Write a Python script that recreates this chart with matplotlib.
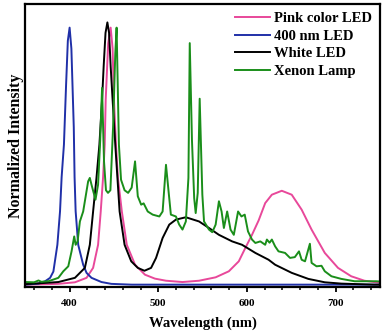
import matplotlib
matplotlib.use("Agg")
import matplotlib.pyplot as plt
from matplotlib.ticker import MultipleLocator

plt.rcParams['font.family'] = ['Liberation Serif', 'DejaVu Serif']
plt.rcParams['font.weight'] = 'bold'

# spectra (wavelength nm, normalized intensity)
pink_wl = [350, 387, 406, 419.1, 426.5, 432.1, 435.1, 437.7, 439.6, 440.7, 443.5, 446.3, 448.5, 450, 452.3,
           454.5, 458.9, 464.5, 473.8, 485, 496.2, 508.7, 527.3, 546, 564.7, 579.6, 590.8, 598.2, 605.7,
           613.2, 620.6, 628.1, 639.3, 650.5, 661.7, 672.9, 687.8, 702.7, 717.6, 732.5, 750]
pink_val = [0.0, 0.003, 0.009, 0.026, 0.064, 0.152, 0.279, 0.407, 0.534, 0.705, 0.92, 0.98, 0.9, 0.705, 0.534,
            0.407, 0.279, 0.152, 0.076, 0.038, 0.023, 0.015, 0.010, 0.015, 0.028, 0.051, 0.089, 0.14, 0.19,
            0.245, 0.311, 0.343, 0.358, 0.343, 0.286, 0.21, 0.121, 0.064, 0.032, 0.015, 0.007]

blue_wl = [350, 365, 372.4, 378, 381.7, 386.2, 389.2, 391, 393.6, 396, 398, 400, 402, 404.7, 405.6, 406.8,
           409.7, 415.3, 419.1, 424.7, 435.9, 447.1, 470, 750]
blue_val = [0.0, 0.004, 0.013, 0.026, 0.05, 0.152, 0.28, 0.41, 0.534, 0.76, 0.93, 0.98, 0.9, 0.6, 0.41, 0.28,
            0.152, 0.076, 0.045, 0.026, 0.010, 0.003, 0.0, 0.0]

white_wl = [350, 364.9, 387.3, 406, 417.2, 422.8, 426.5, 430.3, 433.6, 436.6, 438.4, 440.5, 442.6, 444.5,
            446.3, 448.5, 451.5, 456.4, 462, 469.5, 476.9, 484.4, 491.9, 497.5, 504.9, 512.4, 519.9, 531.1,
            546, 557.2, 568.4, 583.3, 594.5, 609.5, 624.4, 631.8, 650.5, 669.2, 687.8, 706.4, 743.8, 750]
white_val = [0.002, 0.005, 0.010, 0.026, 0.064, 0.152, 0.279, 0.407, 0.534, 0.705, 0.832, 0.96, 1.0, 0.96,
             0.832, 0.705, 0.534, 0.279, 0.152, 0.089, 0.064, 0.053, 0.064, 0.102, 0.178, 0.229, 0.248, 0.257,
             0.241, 0.216, 0.19, 0.165, 0.152, 0.121, 0.095, 0.076, 0.045, 0.022, 0.009, 0.004, 0.0, 0.0]

xenon_wl = [350, 360, 364.9, 368, 376.1, 387.3, 392.9, 398.5, 402.2, 405.2, 406.8, 409, 411.6, 415.3, 420.9,
            422.8, 424.7, 429.2, 432.1, 434.5, 436.6, 438.8, 441, 443.3, 446, 449, 451.5, 453, 455.6, 458,
            462, 466, 470, 473.8, 476.9, 480.7, 483.5, 488.1, 493.7, 501.2, 504.9, 508.7, 511.6, 514.2,
            519.9, 523.6, 527.3, 531.1, 534, 535.5, 538, 540.5, 542.2, 544.5, 546.7, 549.7, 551.6, 557.2,
            560.9, 564.7, 568.4, 571.4, 574, 577.7, 581.5, 585.2, 590, 593.8, 597.5, 601.2, 605.7, 609.5,
            615.1, 620.6, 622.5, 625.5, 628.1, 631.8, 635.6, 643, 648.6, 654, 658.7, 661.7, 665.5, 671,
            672.9, 678.5, 684.1, 687.8, 695.3, 706.4, 721.4, 745.6, 750]
xenon_val = [0.010, 0.009, 0.016, 0.011, 0.013, 0.026, 0.051, 0.07, 0.127, 0.184, 0.152, 0.165, 0.241, 0.279,
             0.394, 0.407, 0.381, 0.324, 0.381, 0.55, 0.75, 0.47, 0.36, 0.35, 0.36, 0.6, 0.88, 0.98, 0.534,
             0.40, 0.36, 0.35, 0.37, 0.47, 0.337, 0.305, 0.31, 0.279, 0.267, 0.26, 0.279, 0.457, 0.356,
             0.267, 0.26, 0.229, 0.21, 0.241, 0.407, 0.921, 0.55, 0.33, 0.273, 0.35, 0.709, 0.343, 0.241,
             0.21, 0.2, 0.229, 0.318, 0.279, 0.216, 0.279, 0.21, 0.19, 0.279, 0.26, 0.267, 0.203, 0.172,
             0.159, 0.165, 0.152, 0.172, 0.16, 0.172, 0.146, 0.127, 0.121, 0.102, 0.105, 0.127, 0.095, 0.089,
             0.156, 0.083, 0.07, 0.072, 0.051, 0.032, 0.022, 0.013, 0.013, 0.012]

labels = ["Pink color LED", "400 nm LED", "White LED", "Xenon Lamp"]
colors = ["#e8489a", "#2030a8", "#000000", "#1a8e1a"]

fig = plt.figure(figsize=(3.83, 3.36), dpi=100)
ax = fig.add_axes([0.066, 0.145, 0.926, 0.843])

series = [(pink_wl, pink_val), (blue_wl, blue_val), (white_wl, white_val), (xenon_wl, xenon_val)]
for (x, y), lab, col in zip(series, labels, colors):
    ax.plot(x, y, color=col, lw=1.4, label=lab)

ax.set_xlim(350, 750)
ax.set_ylim(-0.01, 1.07)
ax.xaxis.set_major_locator(MultipleLocator(100))
ax.xaxis.set_minor_locator(MultipleLocator(20))
ax.set_yticks([])
ax.tick_params(axis='x', which='major', length=3.5, width=1.3, labelsize=8, pad=5)
ax.tick_params(axis='x', which='minor', length=2.5, width=1.1)
for s in ax.spines.values():
    s.set_linewidth(1.6)

ax.set_xlabel("Wavelength (nm)", fontsize=10.5, fontweight='bold', labelpad=6)
ax.set_ylabel("Normalized Intensity", fontsize=11.5, fontweight='bold', labelpad=1)

ax.legend(loc='upper right', frameon=False, fontsize=10.5, handlelength=2.4, handletextpad=0.25,
          labelspacing=0.3, borderaxespad=0.15)

fig.savefig("out.png", dpi=100)
